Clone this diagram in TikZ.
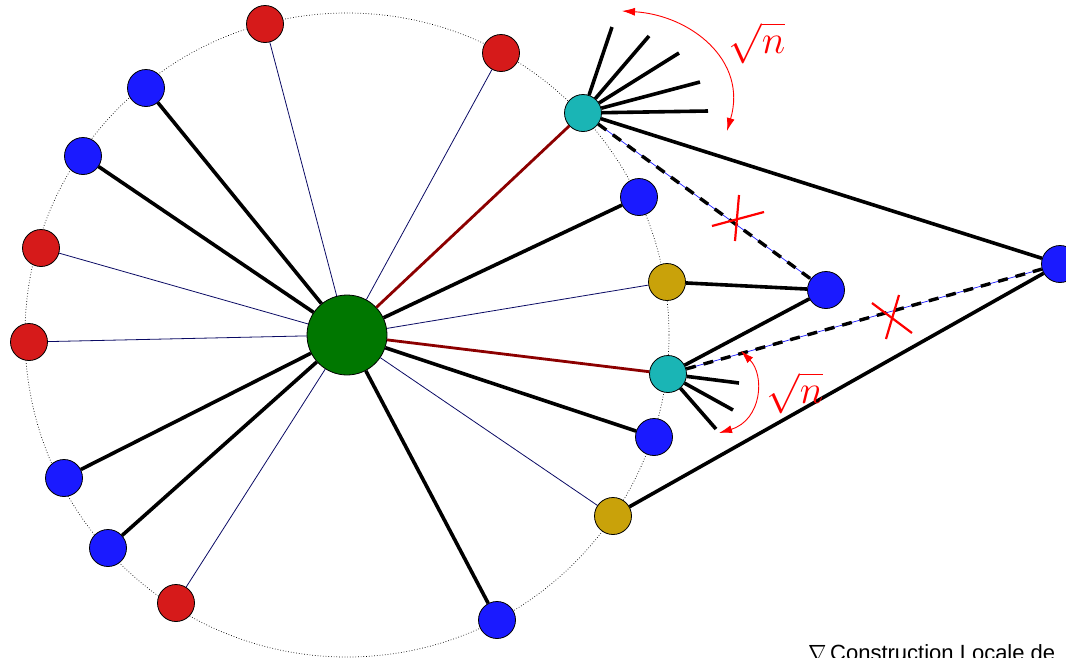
\documentclass[tikz,border=0pt]{standalone}
\usepackage{fix-cm}
\usepackage{fontspec}
\setmainfont{Liberation Sans}
\usetikzlibrary{arrows.meta}
\definecolor{cred}{RGB}{214,26,26}
\definecolor{cblue}{RGB}{26,26,255}
\definecolor{cteal}{RGB}{26,181,181}
\definecolor{cgold}{RGB}{201,162,10}
\definecolor{cgreen}{RGB}{0,119,0}
\definecolor{cdred}{RGB}{140,0,0}
\definecolor{cnavy}{RGB}{10,10,100}
\definecolor{arcred}{RGB}{255,0,0}
\begin{document}
\begin{tikzpicture}[x=1pt,y=-1pt,
  vtx/.style={circle,draw=black,line width=0.8pt,minimum size=37pt,inner sep=0pt},
  rv/.style={vtx,fill=cred},
  bv/.style={vtx,fill=cblue},
  tv/.style={vtx,fill=cteal},
  gv/.style={vtx,fill=cgold},
  heavy/.style={line width=3.6pt,black},
  light/.style={line width=0.8pt,cnavy},
  redge/.style={line width=2.8pt,cdred},
  cutline/.style={line width=0.7pt,cblue},
  cutdash/.style={line width=3.4pt,black,dash pattern=on 10pt off 8pt},
  cross/.style={line width=2.2pt,arcred},
  arc/.style={line width=0.9pt,arcred,{Latex[length=13pt,width=8pt]}-{Latex[length=13pt,width=8pt]}},
  lbl/.style={text=arcred,inner sep=0pt,font=\fontsize{40}{44}\selectfont}
]
\useasboundingbox (0,0) rectangle (1066,657);
\draw[dotted,line width=0.7pt] (347,335) circle[radius=322];
% nodes
\node[vtx,fill=cgreen,minimum size=80pt] (g) at (347,335) {};
\node[rv] (r1) at (265,24) {};
\node[rv] (r2) at (501,53) {};
\node[bv] (b1) at (146,88) {};
\node[bv] (b2) at (83,156) {};
\node[rv] (r3) at (41,248) {};
\node[rv] (r4) at (29,342) {};
\node[bv] (b3) at (64,478) {};
\node[bv] (b4) at (108,548) {};
\node[rv] (r5) at (176,603) {};
\node[bv] (b5) at (497,620) {};
\node[gv] (y1) at (613,516) {};
\node[bv] (b6) at (654,437) {};
\node[tv] (t2) at (668,374) {};
\node[gv] (y2) at (667,282) {};
\node[bv] (b7) at (639,197) {};
\node[tv] (t1) at (583,113) {};
\node[bv] (o1) at (826,290) {};
\node[bv] (o2) at (1060,264) {};
% free ends
\coordinate (f1) at (612,27);
\coordinate (f2) at (649,36);
\coordinate (f3) at (679,53);
\coordinate (f4) at (700,82);
\coordinate (f5) at (708,111);
\coordinate (h1) at (739,383);
\coordinate (h2) at (733,410);
\coordinate (h3) at (716,429);
% edges from centre
\foreach \n in {r1,r2,r3,r4,r5,y1,y2} \draw[light] (g) -- (\n);
\foreach \n in {b1,b2,b3,b4,b5,b6,b7} \draw[heavy] (g) -- (\n);
\draw[redge] (g) -- (t1);
\draw[redge] (g) -- (t2);
% other edges
\draw[heavy] (y2) -- (o1);
\draw[heavy] (t2) -- (o1);
\draw[heavy] (t1) -- (o2);
\draw[heavy] (y1) -- (o2);
\foreach \f in {f1,f2,f3,f4,f5} \draw[heavy] (t1) -- (\f);
\foreach \f in {h1,h2,h3} \draw[heavy] (t2) -- (\f);
% cut edges
\draw[cutline] (t1) -- (o1);
\draw[cutdash] (t1) -- (o1);
\draw[cutline] (t2) -- (o2);
\draw[cutdash] (t2) -- (o2);
\draw[cross] (739,195) -- (735,241);
\draw[cross] (712,226) -- (764,212);
\draw[cross] (872,303) -- (912,333);
\draw[cross] (899,295) -- (886,339);
% arcs
\coordinate (a1) at (622,11);
\coordinate (a2) at (727,131);
\draw[arc] (a1) .. controls (690,15) and (748,60) .. (a2);
\node[lbl] (s1) at (757,43) {$\sqrt{n}$};
\coordinate (a3) at (741,351);
\coordinate (a4) at (719,433);
\draw[arc] (a3) .. controls (765,375) and (762,420) .. (a4);
\node[lbl] (s2) at (795,393) {$\sqrt{n}$};
% caption
\node[anchor=base west,inner sep=0pt,font=\fontsize{22}{26}\selectfont] (cap) at (808,660) {$\nabla$\,Construction Locale de};
\end{tikzpicture}
\end{document}
